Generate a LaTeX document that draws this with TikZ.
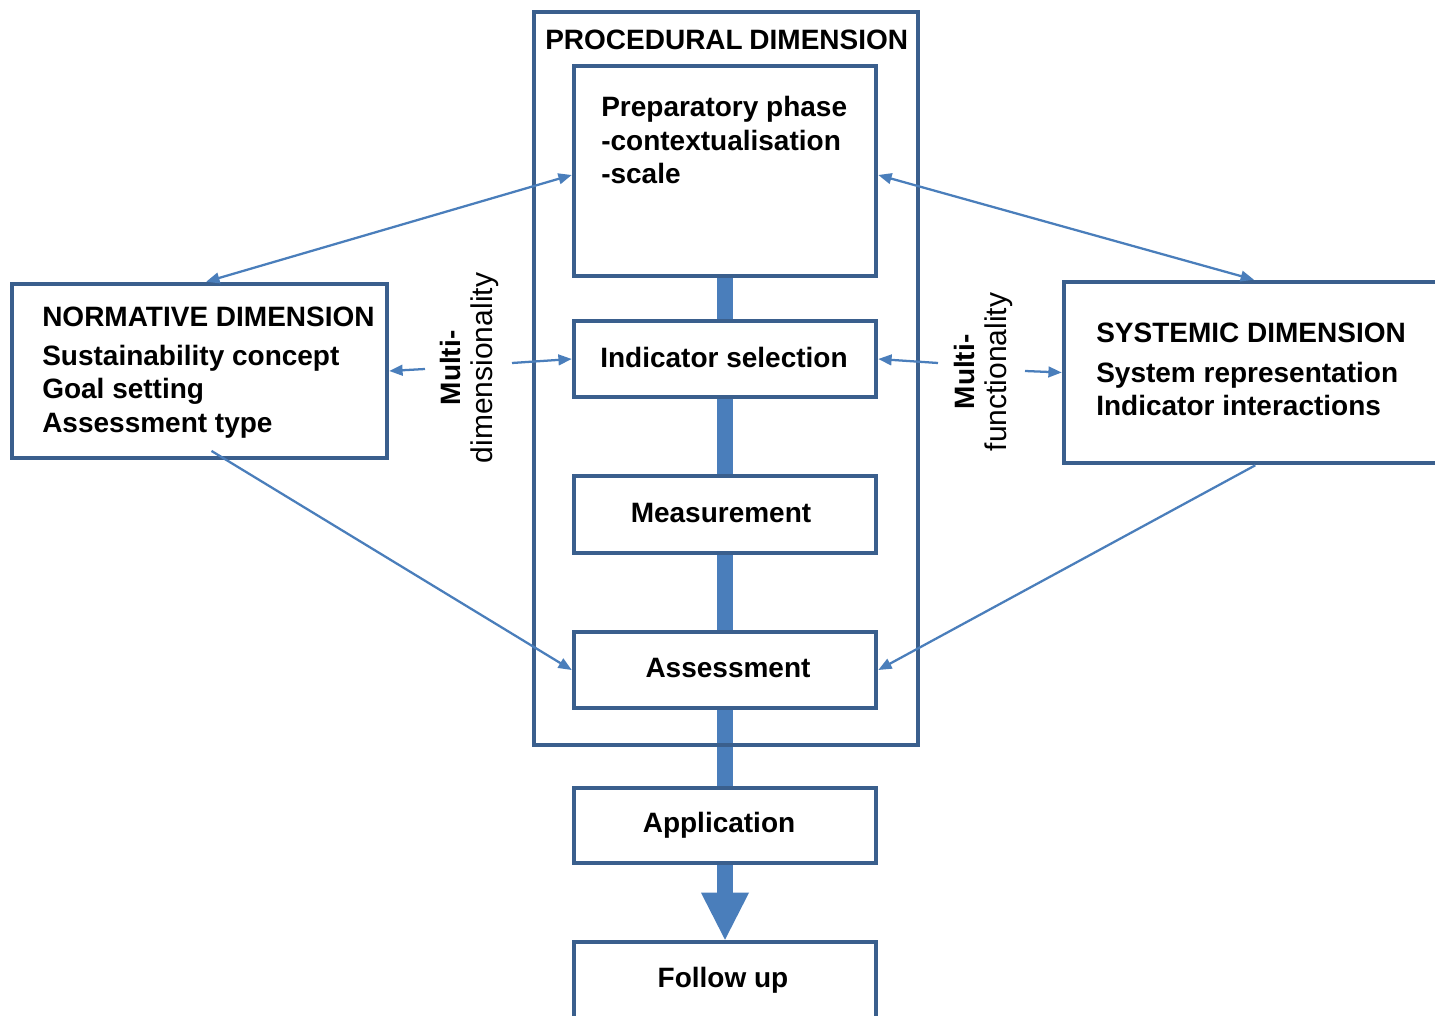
\documentclass[tikz,border=0pt]{standalone}
\usepackage{fontspec}
\setmainfont{Liberation Sans}
\usetikzlibrary{arrows.meta,fit,calc}
\definecolor{boxblue}{HTML}{3A5F8D}
\definecolor{arrblue}{HTML}{4A7EBB}
\begin{document}
\begin{tikzpicture}[x=0.75pt,y=-0.75pt,
  box/.style={draw=boxblue, line width=3.4pt, fill=white, inner sep=0pt},
  outerbox/.style={draw=boxblue, line width=3.4pt, inner sep=0pt},
  txt/.style={font=\fontsize{21}{25}\selectfont, inner sep=0pt, anchor=base west},
  btxt/.style={font=\fontsize{21}{25}\selectfont\bfseries, inner sep=0pt, anchor=base west},
  ctxt/.style={font=\fontsize{21}{25}\selectfont\bfseries, inner sep=0pt, anchor=base},
  rottxt/.style={font=\fontsize{22.5}{24}\selectfont, inner sep=0pt, rotate=90, align=center},
  conn/.style={draw=arrblue, line width=12pt},
  thinarr/.style={draw=arrblue, line width=1.7pt, -{Triangle[length=10pt,width=8pt]}},
  dblarr/.style={draw=arrblue, line width=1.7pt, {Triangle[length=10pt,width=8pt]}-{Triangle[length=10pt,width=8pt]}},
]
\useasboundingbox (0,0) rectangle (1435,1016);
\clip (0,0) rectangle (1435,1016);

% connectors behind boxes
\draw[conn] (725,276) -- (725,321);
\draw[conn] (725,397) -- (725,476);
\draw[conn] (725,553) -- (725,632);
\draw[conn] (725,708) -- (725,788);

% outer procedural box
\node[outerbox, fit={(534,12) (918,745)}] (proc) {};

% inner boxes
\node[box, fit={(574,66) (876,276)}] (prep) {};
\node[box, fit={(574,321) (876,397)}] (indsel) {};
\node[box, fit={(574,476) (876,553)}] (meas) {};
\node[box, fit={(574,632) (876,708)}] (asmt) {};
\node[box, fit={(574,788) (876,863)}] (app) {};
\node[box, fit={(574,942) (876,1040)}] (fol) {};
\node[box, fit={(12,284) (387,458)}] (norm) {};
\node[box, fit={(1064,282) (1460,463)}] (sys) {};

% final big arrow
\draw[conn] (app.south) -- ($(app.south)+(0,36)$);
\fill[arrblue] ($(fol.north)+(-24,-47)$) -- ($(fol.north)+(24,-47)$) -- (fol.north) -- cycle;

% texts
\node[btxt] (proct) at (545,50) {PROCEDURAL\hspace{5pt}DIMENSION};
\node[btxt] (prept1) at (601,117) {Preparatory phase};
\node[btxt] (prept2) at (601,151) {-contextualisation};
\node[btxt] (prept3) at (601,184) {-scale};
\node[btxt] (indt) at (600,367) {Indicator selection};
\node[ctxt] (meast) at (721,522) {Measurement};
\node[ctxt] (asmtt) at (728,677) {Assessment};
\node[ctxt] (appt) at (719,832) {Application};
\node[ctxt] (folt) at (723,987) {Follow up};

\node[btxt] (normh) at (42,326) {NORMATIVE DIMENSION};
\node[btxt] (norm1) at (42,365) {Sustainability concept};
\node[btxt] (norm2) at (42,398) {Goal setting};
\node[btxt] (norm3) at (42,432) {Assessment type};

\node[btxt] (sysh) at (1096,342) {SYSTEMIC DIMENSION};
\node[btxt] (sys1) at (1096,382) {System representation};
\node[btxt] (sys2) at (1096,415) {Indicator interactions};

\node[rottxt] (dimlab) at (469,368) {{\fontsize{21}{24}\selectfont\bfseries Multi-}\\dimensionality};
\node[rottxt] (funlab) at (983,372) {{\fontsize{21}{24}\selectfont\bfseries Multi-}\\functionality};

% thin arrows
\coordinate (dl1) at (425,369);
\coordinate (dl2) at (512,363);
\coordinate (fl1) at (938,363);
\coordinate (fl2) at (1025,371);
\draw[thinarr] (dl1) -- (norm.east);
\draw[thinarr] (dl2) -- (indsel.west);
\draw[thinarr] (fl1) -- (indsel.east);
\draw[thinarr] (fl2) -- (sys.west);

\draw[dblarr] ([xshift=5pt]norm.north) -- ([yshift=-3pt]prep.west);
\draw[dblarr] ([xshift=-6pt]sys.north) -- ([yshift=-3pt]prep.east);

\draw[thinarr] ([xshift=9pt,yshift=7pt]norm.south) -- (asmt.west);
\draw[thinarr] ([xshift=-5pt]sys.south) -- (asmt.east);
\end{tikzpicture}
\end{document}
